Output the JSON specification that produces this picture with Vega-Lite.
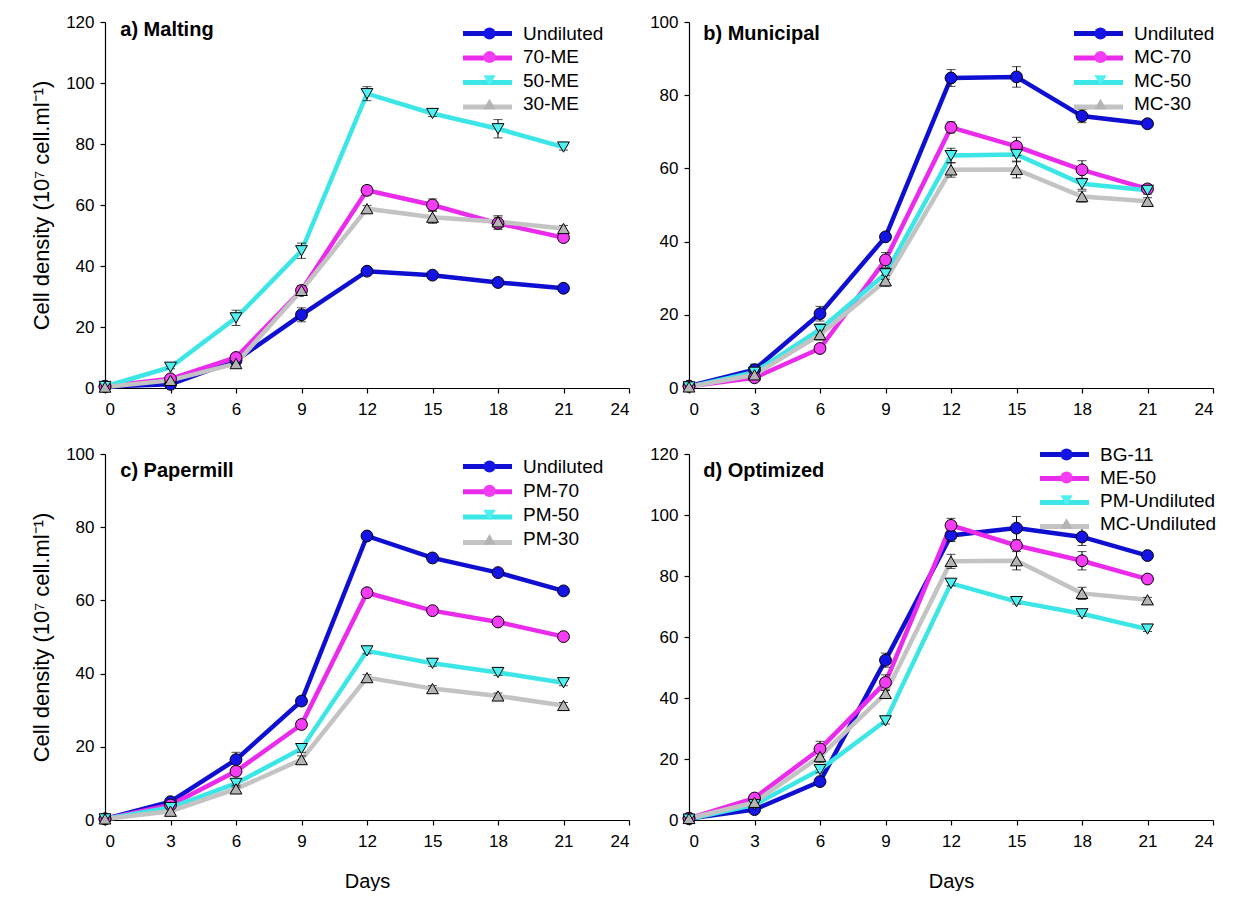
{
  "$schema": "https://vega.github.io/schema/vega-lite/v6.json",
  "padding": {"left": 30, "top": 13, "right": 0, "bottom": 0},
  "background": "white",
  "datasets": {
    "a": [
      {"day": 0, "series": "Undiluted", "density": 0.5, "err": 0.3},
      {"day": 3, "series": "Undiluted", "density": 1.2, "err": 0.3},
      {"day": 6, "series": "Undiluted", "density": 9, "err": 0.8},
      {"day": 9, "series": "Undiluted", "density": 24, "err": 2.3},
      {"day": 12, "series": "Undiluted", "density": 38.3, "err": 1.2},
      {"day": 15, "series": "Undiluted", "density": 37, "err": 0.8},
      {"day": 18, "series": "Undiluted", "density": 34.6, "err": 0.8},
      {"day": 21, "series": "Undiluted", "density": 32.7, "err": 0.8},
      {"day": 0, "series": "70-ME", "density": 0.5, "err": 0.2},
      {"day": 3, "series": "70-ME", "density": 3, "err": 0.5},
      {"day": 6, "series": "70-ME", "density": 10, "err": 1},
      {"day": 9, "series": "70-ME", "density": 32, "err": 1.5},
      {"day": 12, "series": "70-ME", "density": 64.8, "err": 1.5},
      {"day": 15, "series": "70-ME", "density": 60, "err": 2},
      {"day": 18, "series": "70-ME", "density": 54, "err": 2},
      {"day": 21, "series": "70-ME", "density": 49.3, "err": 1},
      {"day": 0, "series": "50-ME", "density": 0.5, "err": 0.2},
      {"day": 3, "series": "50-ME", "density": 6.8, "err": 0.5},
      {"day": 6, "series": "50-ME", "density": 23, "err": 2.5},
      {"day": 9, "series": "50-ME", "density": 45, "err": 2.5},
      {"day": 12, "series": "50-ME", "density": 96.5, "err": 2.3},
      {"day": 15, "series": "50-ME", "density": 90, "err": 1},
      {"day": 18, "series": "50-ME", "density": 85, "err": 3},
      {"day": 21, "series": "50-ME", "density": 79, "err": 1},
      {"day": 0, "series": "30-ME", "density": 0.3, "err": 0.2},
      {"day": 3, "series": "30-ME", "density": 2.5, "err": 0.5},
      {"day": 6, "series": "30-ME", "density": 8, "err": 0.8},
      {"day": 9, "series": "30-ME", "density": 32, "err": 1.5},
      {"day": 12, "series": "30-ME", "density": 58.8, "err": 1},
      {"day": 15, "series": "30-ME", "density": 56, "err": 2},
      {"day": 18, "series": "30-ME", "density": 54.5, "err": 2},
      {"day": 21, "series": "30-ME", "density": 52.3, "err": 1}
    ],
    "b": [
      {"day": 0, "series": "Undiluted", "density": 0.5, "err": 0.3},
      {"day": 3, "series": "Undiluted", "density": 5, "err": 1.5},
      {"day": 6, "series": "Undiluted", "density": 20.3, "err": 2},
      {"day": 9, "series": "Undiluted", "density": 41.3, "err": 1},
      {"day": 12, "series": "Undiluted", "density": 84.7, "err": 2.3},
      {"day": 15, "series": "Undiluted", "density": 85, "err": 2.8},
      {"day": 18, "series": "Undiluted", "density": 74.3, "err": 1.8},
      {"day": 21, "series": "Undiluted", "density": 72.2, "err": 0.8},
      {"day": 0, "series": "MC-70", "density": 0.5, "err": 0.2},
      {"day": 3, "series": "MC-70", "density": 2.8, "err": 0.5},
      {"day": 6, "series": "MC-70", "density": 10.8, "err": 1},
      {"day": 9, "series": "MC-70", "density": 35, "err": 2},
      {"day": 12, "series": "MC-70", "density": 71.2, "err": 1.5},
      {"day": 15, "series": "MC-70", "density": 66, "err": 2.5},
      {"day": 18, "series": "MC-70", "density": 59.6, "err": 2.5},
      {"day": 21, "series": "MC-70", "density": 54.4, "err": 1},
      {"day": 0, "series": "MC-50", "density": 0.3, "err": 0.2},
      {"day": 3, "series": "MC-50", "density": 4.3, "err": 0.5},
      {"day": 6, "series": "MC-50", "density": 16, "err": 1.5},
      {"day": 9, "series": "MC-50", "density": 31.2, "err": 1.5},
      {"day": 12, "series": "MC-50", "density": 63.5, "err": 2},
      {"day": 15, "series": "MC-50", "density": 63.8, "err": 2},
      {"day": 18, "series": "MC-50", "density": 55.8, "err": 1.5},
      {"day": 21, "series": "MC-50", "density": 54, "err": 1},
      {"day": 0, "series": "MC-30", "density": 0.3, "err": 0.2},
      {"day": 3, "series": "MC-30", "density": 3.6, "err": 0.5},
      {"day": 6, "series": "MC-30", "density": 14.6, "err": 1.5},
      {"day": 9, "series": "MC-30", "density": 29.3, "err": 1.5},
      {"day": 12, "series": "MC-30", "density": 59.6, "err": 2},
      {"day": 15, "series": "MC-30", "density": 59.7, "err": 2.3},
      {"day": 18, "series": "MC-30", "density": 52.3, "err": 1.5},
      {"day": 21, "series": "MC-30", "density": 51, "err": 1}
    ],
    "c": [
      {"day": 0, "series": "Undiluted", "density": 0.3, "err": 0.2},
      {"day": 3, "series": "Undiluted", "density": 5, "err": 0.5},
      {"day": 6, "series": "Undiluted", "density": 16.5, "err": 2},
      {"day": 9, "series": "Undiluted", "density": 32.5, "err": 1},
      {"day": 12, "series": "Undiluted", "density": 77.6, "err": 0.8},
      {"day": 15, "series": "Undiluted", "density": 71.6, "err": 0.8},
      {"day": 18, "series": "Undiluted", "density": 67.6, "err": 0.8},
      {"day": 21, "series": "Undiluted", "density": 62.6, "err": 0.8},
      {"day": 0, "series": "PM-70", "density": 0.3, "err": 0.2},
      {"day": 3, "series": "PM-70", "density": 4.1, "err": 0.5},
      {"day": 6, "series": "PM-70", "density": 13.3, "err": 1},
      {"day": 9, "series": "PM-70", "density": 26.1, "err": 1},
      {"day": 12, "series": "PM-70", "density": 62.1, "err": 0.8},
      {"day": 15, "series": "PM-70", "density": 57.2, "err": 0.8},
      {"day": 18, "series": "PM-70", "density": 54.1, "err": 0.8},
      {"day": 21, "series": "PM-70", "density": 50.1, "err": 0.8},
      {"day": 0, "series": "PM-50", "density": 0.3, "err": 0.2},
      {"day": 3, "series": "PM-50", "density": 3.4, "err": 0.5},
      {"day": 6, "series": "PM-50", "density": 10, "err": 1},
      {"day": 9, "series": "PM-50", "density": 19.5, "err": 1},
      {"day": 12, "series": "PM-50", "density": 46.2, "err": 0.8},
      {"day": 15, "series": "PM-50", "density": 42.8, "err": 0.8},
      {"day": 18, "series": "PM-50", "density": 40.3, "err": 0.8},
      {"day": 21, "series": "PM-50", "density": 37.5, "err": 0.8},
      {"day": 0, "series": "PM-30", "density": 0.3, "err": 0.2},
      {"day": 3, "series": "PM-30", "density": 2.4, "err": 0.5},
      {"day": 6, "series": "PM-30", "density": 8.5, "err": 1},
      {"day": 9, "series": "PM-30", "density": 16.5, "err": 1},
      {"day": 12, "series": "PM-30", "density": 38.9, "err": 0.8},
      {"day": 15, "series": "PM-30", "density": 35.9, "err": 0.8},
      {"day": 18, "series": "PM-30", "density": 33.9, "err": 0.8},
      {"day": 21, "series": "PM-30", "density": 31.3, "err": 0.8}
    ],
    "d": [
      {"day": 0, "series": "BG-11", "density": 0.5, "err": 0.3},
      {"day": 3, "series": "BG-11", "density": 3.4, "err": 0.5},
      {"day": 6, "series": "BG-11", "density": 12.6, "err": 1},
      {"day": 9, "series": "BG-11", "density": 52.4, "err": 2.3},
      {"day": 12, "series": "BG-11", "density": 93.3, "err": 2},
      {"day": 15, "series": "BG-11", "density": 95.7, "err": 3.8},
      {"day": 18, "series": "BG-11", "density": 92.8, "err": 2.8},
      {"day": 21, "series": "BG-11", "density": 86.7, "err": 1},
      {"day": 0, "series": "ME-50", "density": 0.5, "err": 0.2},
      {"day": 3, "series": "ME-50", "density": 7.2, "err": 0.5},
      {"day": 6, "series": "ME-50", "density": 23.3, "err": 2.5},
      {"day": 9, "series": "ME-50", "density": 45.1, "err": 2.5},
      {"day": 12, "series": "ME-50", "density": 96.6, "err": 2.3},
      {"day": 15, "series": "ME-50", "density": 90, "err": 1},
      {"day": 18, "series": "ME-50", "density": 85, "err": 3},
      {"day": 21, "series": "ME-50", "density": 79, "err": 1},
      {"day": 0, "series": "PM-Undiluted", "density": 0.3, "err": 0.2},
      {"day": 3, "series": "PM-Undiluted", "density": 5, "err": 0.5},
      {"day": 6, "series": "PM-Undiluted", "density": 16.5, "err": 1},
      {"day": 9, "series": "PM-Undiluted", "density": 32.5, "err": 1},
      {"day": 12, "series": "PM-Undiluted", "density": 77.6, "err": 0.8},
      {"day": 15, "series": "PM-Undiluted", "density": 71.6, "err": 0.8},
      {"day": 18, "series": "PM-Undiluted", "density": 67.6, "err": 0.8},
      {"day": 21, "series": "PM-Undiluted", "density": 62.6, "err": 0.8},
      {"day": 0, "series": "MC-Undiluted", "density": 0.5, "err": 0.3},
      {"day": 3, "series": "MC-Undiluted", "density": 5.8, "err": 1},
      {"day": 6, "series": "MC-Undiluted", "density": 20.8, "err": 2},
      {"day": 9, "series": "MC-Undiluted", "density": 41.5, "err": 1},
      {"day": 12, "series": "MC-Undiluted", "density": 84.8, "err": 2.3},
      {"day": 15, "series": "MC-Undiluted", "density": 85, "err": 3},
      {"day": 18, "series": "MC-Undiluted", "density": 74.3, "err": 2},
      {"day": 21, "series": "MC-Undiluted", "density": 72.2, "err": 0.8}
    ]
  },
  "columns": 2,
  "spacing": {"row": 28, "column": 19},
  "resolve": {
    "scale": {"x": "independent", "y": "independent", "color": "independent", "fill": "independent", "shape": "independent"},
    "legend": {"color": "independent", "fill": "independent", "shape": "independent"}
  },
  "concat": [
    {
      "data": {"name": "a"},
      "width": 524, "height": 366,
      "layer": [
        {"mark": {"type": "line", "strokeWidth": 4.5},
         "encoding": {
           "x": {"field": "day", "type": "quantitative", "scale": {"domain": [0, 24], "nice": false}, "axis": {"values": [0, 3, 6, 9, 12, 15, 18, 21, 24], "title": null}},
           "y": {"field": "density", "type": "quantitative", "scale": {"domain": [0, 120], "nice": false}, "axis": {"values": [0, 20, 40, 60, 80, 100, 120], "title": "Cell density (10⁷ cell.ml⁻¹)"}},
           "color": {"field": "series", "type": "nominal", "sort": ["Undiluted", "70-ME", "50-ME", "30-ME"], "scale": {"range": ["#0f0fd2", "#eb2beb", "#3ce6e6", "#c3c3c3"]},
             "legend": {"orient": "none", "legendX": 373, "legendY": 2, "zindex": 0, "title": null, "symbolType": "M-4,0H4", "symbolStrokeWidth": 5, "labelExpr": "' '", "symbolSize": 150}}
         }},
        {"mark": {"type": "errorbar", "ticks": {"size": 9, "color": "black"}, "color": "black", "thickness": 1},
         "encoding": {
           "x": {"field": "day", "type": "quantitative", "scale": {"domain": [0, 24], "nice": false}, "axis": {"values": [0, 3, 6, 9, 12, 15, 18, 21, 24], "title": null}},
           "y": {"field": "density", "type": "quantitative", "scale": {"domain": [0, 120], "nice": false}, "axis": {"values": [0, 20, 40, 60, 80, 100, 120], "title": "Cell density (10⁷ cell.ml⁻¹)"}},
           "yError": {"field": "err"}
         }},
        {"mark": {"type": "point", "filled": true, "size": 140, "stroke": "black", "strokeWidth": 1, "opacity": 1},
         "encoding": {
           "x": {"field": "day", "type": "quantitative", "scale": {"domain": [0, 24], "nice": false}, "axis": {"values": [0, 3, 6, 9, 12, 15, 18, 21, 24], "title": null}},
           "y": {"field": "density", "type": "quantitative", "scale": {"domain": [0, 120], "nice": false}, "axis": {"values": [0, 20, 40, 60, 80, 100, 120], "title": "Cell density (10⁷ cell.ml⁻¹)"}},
           "fill": {"field": "series", "type": "nominal", "scale": {"domain": ["Undiluted", "70-ME", "50-ME", "30-ME"], "range": ["#1414e6", "#f53cf5", "#50f0f0", "#b4b4b4"]},
             "legend": {"orient": "none", "legendX": 375, "legendY": 2, "zindex": 2, "title": null, "symbolStrokeColor": "black", "symbolStrokeWidth": 1, "symbolSize": 150, "symbolOpacity": 1}},
           "shape": {"field": "series", "type": "nominal", "scale": {"domain": ["Undiluted", "70-ME", "50-ME", "30-ME"], "range": ["circle", "circle", "triangle-down", "triangle-up"]},
             "legend": {"orient": "none", "legendX": 375, "legendY": 2, "zindex": 2, "title": null, "symbolStrokeColor": "black", "symbolStrokeWidth": 1, "symbolSize": 150, "symbolOpacity": 1}}
         }},
        {"data": {"values": [{"label": "a) Malting"}]},
         "mark": {"type": "text", "align": "left", "baseline": "alphabetic", "fontSize": 20, "fontWeight": "bold", "color": "black"},
         "encoding": {"x": {"datum": 0.7}, "y": {"datum": 115.5}, "text": {"field": "label"}}}
      ]
    },
    {
      "data": {"name": "b"},
      "width": 524, "height": 366,
      "layer": [
        {"mark": {"type": "line", "strokeWidth": 4.5},
         "encoding": {
           "x": {"field": "day", "type": "quantitative", "scale": {"domain": [0, 24], "nice": false}, "axis": {"values": [0, 3, 6, 9, 12, 15, 18, 21, 24], "title": null}},
           "y": {"field": "density", "type": "quantitative", "scale": {"domain": [0, 100], "nice": false}, "axis": {"values": [0, 20, 40, 60, 80, 100], "title": null}},
           "color": {"field": "series", "type": "nominal", "sort": ["Undiluted", "MC-70", "MC-50", "MC-30"], "scale": {"range": ["#0f0fd2", "#eb2beb", "#3ce6e6", "#c3c3c3"]},
             "legend": {"orient": "none", "legendX": 400, "legendY": 2, "zindex": 0, "title": null, "symbolType": "M-4,0H4", "symbolStrokeWidth": 5, "labelExpr": "' '", "symbolSize": 150}}
         }},
        {"mark": {"type": "errorbar", "ticks": {"size": 9, "color": "black"}, "color": "black", "thickness": 1},
         "encoding": {
           "x": {"field": "day", "type": "quantitative", "scale": {"domain": [0, 24], "nice": false}, "axis": {"values": [0, 3, 6, 9, 12, 15, 18, 21, 24], "title": null}},
           "y": {"field": "density", "type": "quantitative", "scale": {"domain": [0, 100], "nice": false}, "axis": {"values": [0, 20, 40, 60, 80, 100], "title": null}},
           "yError": {"field": "err"}
         }},
        {"mark": {"type": "point", "filled": true, "size": 140, "stroke": "black", "strokeWidth": 1, "opacity": 1},
         "encoding": {
           "x": {"field": "day", "type": "quantitative", "scale": {"domain": [0, 24], "nice": false}, "axis": {"values": [0, 3, 6, 9, 12, 15, 18, 21, 24], "title": null}},
           "y": {"field": "density", "type": "quantitative", "scale": {"domain": [0, 100], "nice": false}, "axis": {"values": [0, 20, 40, 60, 80, 100], "title": null}},
           "fill": {"field": "series", "type": "nominal", "scale": {"domain": ["Undiluted", "MC-70", "MC-50", "MC-30"], "range": ["#1414e6", "#f53cf5", "#50f0f0", "#b4b4b4"]},
             "legend": {"orient": "none", "legendX": 402, "legendY": 2, "zindex": 2, "title": null, "symbolStrokeColor": "black", "symbolStrokeWidth": 1, "symbolSize": 150, "symbolOpacity": 1}},
           "shape": {"field": "series", "type": "nominal", "scale": {"domain": ["Undiluted", "MC-70", "MC-50", "MC-30"], "range": ["circle", "circle", "triangle-down", "triangle-up"]},
             "legend": {"orient": "none", "legendX": 402, "legendY": 2, "zindex": 2, "title": null, "symbolStrokeColor": "black", "symbolStrokeWidth": 1, "symbolSize": 150, "symbolOpacity": 1}}
         }},
        {"data": {"values": [{"label": "b) Municipal"}]},
         "mark": {"type": "text", "align": "left", "baseline": "alphabetic", "fontSize": 20, "fontWeight": "bold", "color": "black"},
         "encoding": {"x": {"datum": 0.65}, "y": {"datum": 95}, "text": {"field": "label"}}}
      ]
    },
    {
      "data": {"name": "c"},
      "width": 524, "height": 366,
      "layer": [
        {"mark": {"type": "line", "strokeWidth": 4.5},
         "encoding": {
           "x": {"field": "day", "type": "quantitative", "scale": {"domain": [0, 24], "nice": false}, "axis": {"values": [0, 3, 6, 9, 12, 15, 18, 21, 24], "title": "Days"}},
           "y": {"field": "density", "type": "quantitative", "scale": {"domain": [0, 100], "nice": false}, "axis": {"values": [0, 20, 40, 60, 80, 100], "title": "Cell density (10⁷ cell.ml⁻¹)"}},
           "color": {"field": "series", "type": "nominal", "sort": ["Undiluted", "PM-70", "PM-50", "PM-30"], "scale": {"range": ["#0f0fd2", "#eb2beb", "#3ce6e6", "#c3c3c3"]},
             "legend": {"orient": "none", "legendX": 373, "legendY": 3, "zindex": 0, "title": null, "symbolType": "M-4,0H4", "symbolStrokeWidth": 5, "labelExpr": "' '", "symbolSize": 150, "rowPadding": 4.3}}
         }},
        {"mark": {"type": "errorbar", "ticks": {"size": 9, "color": "black"}, "color": "black", "thickness": 1},
         "encoding": {
           "x": {"field": "day", "type": "quantitative", "scale": {"domain": [0, 24], "nice": false}, "axis": {"values": [0, 3, 6, 9, 12, 15, 18, 21, 24], "title": "Days"}},
           "y": {"field": "density", "type": "quantitative", "scale": {"domain": [0, 100], "nice": false}, "axis": {"values": [0, 20, 40, 60, 80, 100], "title": "Cell density (10⁷ cell.ml⁻¹)"}},
           "yError": {"field": "err"}
         }},
        {"mark": {"type": "point", "filled": true, "size": 140, "stroke": "black", "strokeWidth": 1, "opacity": 1},
         "encoding": {
           "x": {"field": "day", "type": "quantitative", "scale": {"domain": [0, 24], "nice": false}, "axis": {"values": [0, 3, 6, 9, 12, 15, 18, 21, 24], "title": "Days"}},
           "y": {"field": "density", "type": "quantitative", "scale": {"domain": [0, 100], "nice": false}, "axis": {"values": [0, 20, 40, 60, 80, 100], "title": "Cell density (10⁷ cell.ml⁻¹)"}},
           "fill": {"field": "series", "type": "nominal", "scale": {"domain": ["Undiluted", "PM-70", "PM-50", "PM-30"], "range": ["#1414e6", "#f53cf5", "#50f0f0", "#b4b4b4"]},
             "legend": {"orient": "none", "legendX": 375, "legendY": 3, "zindex": 2, "title": null, "symbolStrokeColor": "black", "symbolStrokeWidth": 1, "symbolSize": 150, "symbolOpacity": 1, "rowPadding": 4.3}},
           "shape": {"field": "series", "type": "nominal", "scale": {"domain": ["Undiluted", "PM-70", "PM-50", "PM-30"], "range": ["circle", "circle", "triangle-down", "triangle-up"]},
             "legend": {"orient": "none", "legendX": 375, "legendY": 3, "zindex": 2, "title": null, "symbolStrokeColor": "black", "symbolStrokeWidth": 1, "symbolSize": 150, "symbolOpacity": 1, "rowPadding": 4.3}}
         }},
        {"data": {"values": [{"label": "c) Papermill"}]},
         "mark": {"type": "text", "align": "left", "baseline": "alphabetic", "fontSize": 20, "fontWeight": "bold", "color": "black"},
         "encoding": {"x": {"datum": 0.7}, "y": {"datum": 93.7}, "text": {"field": "label"}}}
      ]
    },
    {
      "data": {"name": "d"},
      "width": 524, "height": 366,
      "layer": [
        {"mark": {"type": "line", "strokeWidth": 4.5},
         "encoding": {
           "x": {"field": "day", "type": "quantitative", "scale": {"domain": [0, 24], "nice": false}, "axis": {"values": [0, 3, 6, 9, 12, 15, 18, 21, 24], "title": "Days"}},
           "y": {"field": "density", "type": "quantitative", "scale": {"domain": [0, 120], "nice": false}, "axis": {"values": [0, 20, 40, 60, 80, 100, 120], "title": null}},
           "color": {"field": "series", "type": "nominal", "sort": ["BG-11", "ME-50", "PM-Undiluted", "MC-Undiluted"], "scale": {"range": ["#0f0fd2", "#eb2beb", "#3ce6e6", "#c3c3c3"]},
             "legend": {"orient": "none", "legendX": 366, "legendY": -9, "zindex": 0, "title": null, "symbolType": "M-4,0H4", "symbolStrokeWidth": 5, "labelExpr": "' '", "symbolSize": 150, "rowPadding": 3}}
         }},
        {"mark": {"type": "errorbar", "ticks": {"size": 9, "color": "black"}, "color": "black", "thickness": 1},
         "encoding": {
           "x": {"field": "day", "type": "quantitative", "scale": {"domain": [0, 24], "nice": false}, "axis": {"values": [0, 3, 6, 9, 12, 15, 18, 21, 24], "title": "Days"}},
           "y": {"field": "density", "type": "quantitative", "scale": {"domain": [0, 120], "nice": false}, "axis": {"values": [0, 20, 40, 60, 80, 100, 120], "title": null}},
           "yError": {"field": "err"}
         }},
        {"mark": {"type": "point", "filled": true, "size": 140, "stroke": "black", "strokeWidth": 1, "opacity": 1},
         "encoding": {
           "x": {"field": "day", "type": "quantitative", "scale": {"domain": [0, 24], "nice": false}, "axis": {"values": [0, 3, 6, 9, 12, 15, 18, 21, 24], "title": "Days"}},
           "y": {"field": "density", "type": "quantitative", "scale": {"domain": [0, 120], "nice": false}, "axis": {"values": [0, 20, 40, 60, 80, 100, 120], "title": null}},
           "fill": {"field": "series", "type": "nominal", "scale": {"domain": ["BG-11", "ME-50", "PM-Undiluted", "MC-Undiluted"], "range": ["#1414e6", "#f53cf5", "#50f0f0", "#b4b4b4"]},
             "legend": {"orient": "none", "legendX": 368, "legendY": -9, "zindex": 2, "title": null, "symbolStrokeColor": "black", "symbolStrokeWidth": 1, "symbolSize": 150, "symbolOpacity": 1, "rowPadding": 3}},
           "shape": {"field": "series", "type": "nominal", "scale": {"domain": ["BG-11", "ME-50", "PM-Undiluted", "MC-Undiluted"], "range": ["circle", "circle", "triangle-down", "triangle-up"]},
             "legend": {"orient": "none", "legendX": 368, "legendY": -9, "zindex": 2, "title": null, "symbolStrokeColor": "black", "symbolStrokeWidth": 1, "symbolSize": 150, "symbolOpacity": 1, "rowPadding": 3}}
         }},
        {"data": {"values": [{"label": "d) Optimized"}]},
         "mark": {"type": "text", "align": "left", "baseline": "alphabetic", "fontSize": 20, "fontWeight": "bold", "color": "black"},
         "encoding": {"x": {"datum": 0.65}, "y": {"datum": 112.5}, "text": {"field": "label"}}}
      ]
    }
  ],
  "config": {
    "font": "Liberation Sans",
    "view": {"stroke": null},
    "axis": {
      "grid": false,
      "domainColor": "black",
      "domainWidth": 1.2,
      "tickColor": "black",
      "tickWidth": 1.2,
      "tickSize": 5,
      "labelColor": "black",
      "labelFont": "Liberation Sans",
      "labelFontSize": 17,
      "labelPadding": 6,
      "titleColor": "black",
      "titleFont": "Liberation Sans",
      "titleFontSize": 22,
      "titleFontWeight": "normal",
      "titlePadding": 12
    },
    "axisX": {"labelPadding": 8, "titlePadding": 22, "titleFontSize": 20},
    "legend": {
      "labelFont": "Liberation Sans",
      "labelFontSize": 19,
      "labelColor": "black",
      "labelOffset": 24,
      "rowPadding": 3.5,
      "padding": 0
    }
  }
}
